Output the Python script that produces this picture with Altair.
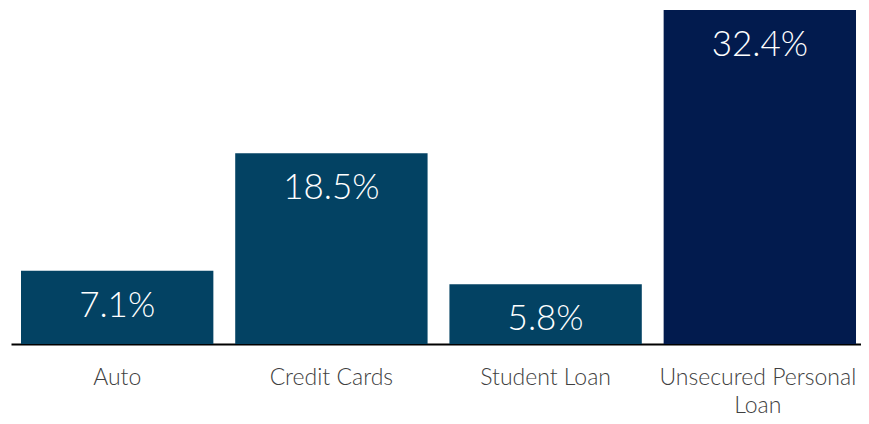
import altair as alt
import pandas as pd

categories = ["Auto", "Credit Cards", "Student Loan", "Unsecured Personal Loan"]
values = [7.1, 18.5, 5.8, 32.4]
labels = ["7.1%", "18.5%", "5.8%", "32.4%"]
colors = ["#034263", "#034263", "#034263", "#021b4e"]

df = pd.DataFrame({"cat": categories, "val": values, "lab": labels, "col": colors})

FONT = "Lato, 'Open Sans', sans-serif"

x = alt.X("cat:N", sort=categories, title=None,
          scale=alt.Scale(paddingInner=0.102, paddingOuter=0.035, align=0.667),
          axis=alt.Axis(labelAngle=0, ticks=False, domainColor="black", domainWidth=2,
                        labelFont=FONT, labelFontSize=23, labelFontWeight=300,
                        labelColor="#404040", labelPadding=22, labelLimit=400,
                        labelLineHeight=28,
                        labelOffset={"condition": {"test": "datum.value == 'Unsecured Personal Loan'", "value": -2}, "value": 0},
                        labelExpr="datum.value == 'Unsecured Personal Loan' ? ['Unsecured Personal', 'Loan'] : datum.value"))
y = alt.Y("val:Q", scale=alt.Scale(domain=[0, 32.4], nice=False), axis=None)

bars = alt.Chart(df).mark_bar().encode(x=x, y=y, color=alt.Color("col:N", scale=None))
text = alt.Chart(df).mark_text(color="white", font=FONT, fontSize=35, fontWeight=300,
                               baseline="middle", dy=35).encode(x=x, y=y, text="lab:N")

chart = (bars + text).properties(
    width=850, height=334,
    padding={"left": 3, "top": 2, "right": 0, "bottom": 72},
    autosize=alt.AutoSizeParams(type="none"),
).configure_view(stroke=None).configure_axis(grid=False)

chart.save("out.html", embed_options={"renderer": "svg", "actions": False})
